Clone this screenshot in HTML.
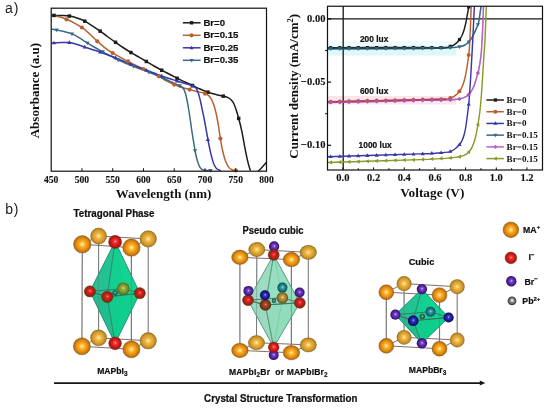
<!DOCTYPE html>
<html><head><meta charset="utf-8"><style>html,body{margin:0;padding:0;background:#fff;width:550px;height:408px;overflow:hidden}svg{display:block;will-change:transform}</style></head>
<body><svg width="550" height="408" viewBox="0 0 550 408">
<defs><radialGradient id="gOr" cx="0.5" cy="0.5" r="0.5" fx="0.5" fy="0.5"><stop offset="0" stop-color="#fff4b0"/><stop offset="0.14" stop-color="#ffd86a"/><stop offset="0.34" stop-color="#f8ae2c"/><stop offset="0.6" stop-color="#ec9212"/><stop offset="0.8" stop-color="#d27e0c"/><stop offset="0.92" stop-color="#a87010"/><stop offset="1" stop-color="#6e5a14"/></radialGradient><radialGradient id="gOrB" cx="0.5" cy="0.5" r="0.5" fx="0.5" fy="0.5"><stop offset="0" stop-color="#fff2b8"/><stop offset="0.15" stop-color="#f8d470"/><stop offset="0.4" stop-color="#ecb040"/><stop offset="0.68" stop-color="#da9c2c"/><stop offset="0.86" stop-color="#b88e26"/><stop offset="0.95" stop-color="#8e7a1e"/><stop offset="1" stop-color="#665c16"/></radialGradient><radialGradient id="gRd" cx="0.5" cy="0.5" r="0.5" fx="0.52" fy="0.45"><stop offset="0" stop-color="#ffb8b8"/><stop offset="0.18" stop-color="#f54444"/><stop offset="0.5" stop-color="#e01c1c"/><stop offset="0.82" stop-color="#b41414"/><stop offset="1" stop-color="#6e3410"/></radialGradient><radialGradient id="gRdD" cx="0.5" cy="0.5" r="0.5" fx="0.52" fy="0.45"><stop offset="0" stop-color="#ffa0a0"/><stop offset="0.18" stop-color="#ee3434"/><stop offset="0.5" stop-color="#cc1a1a"/><stop offset="0.8" stop-color="#9a2412"/><stop offset="1" stop-color="#5a4010"/></radialGradient><radialGradient id="gPu" cx="0.5" cy="0.5" r="0.5" fx="0.52" fy="0.45"><stop offset="0" stop-color="#e8d0ff"/><stop offset="0.18" stop-color="#8a58d8"/><stop offset="0.5" stop-color="#5e2cb0"/><stop offset="0.82" stop-color="#441a88"/><stop offset="1" stop-color="#2a0c58"/></radialGradient><radialGradient id="gBl" cx="0.5" cy="0.5" r="0.5" fx="0.52" fy="0.45"><stop offset="0" stop-color="#d0d0ff"/><stop offset="0.2" stop-color="#4040d0"/><stop offset="0.55" stop-color="#20209c"/><stop offset="0.85" stop-color="#121270"/><stop offset="1" stop-color="#080840"/></radialGradient><radialGradient id="gTe" cx="0.5" cy="0.5" r="0.5" fx="0.52" fy="0.45"><stop offset="0" stop-color="#b0f0f0"/><stop offset="0.22" stop-color="#38a8a8"/><stop offset="0.6" stop-color="#1c7c84"/><stop offset="0.9" stop-color="#0e5a60"/><stop offset="1" stop-color="#084046"/></radialGradient><radialGradient id="gOl" cx="0.5" cy="0.5" r="0.5" fx="0.52" fy="0.45"><stop offset="0" stop-color="#e8f0a0"/><stop offset="0.22" stop-color="#9ab048"/><stop offset="0.6" stop-color="#789a2c"/><stop offset="0.9" stop-color="#587a20"/><stop offset="1" stop-color="#3e5a18"/></radialGradient><radialGradient id="gRdO" cx="0.5" cy="0.5" r="0.5" fx="0.52" fy="0.45"><stop offset="0" stop-color="#f0a080"/><stop offset="0.2" stop-color="#b84a30"/><stop offset="0.55" stop-color="#8a3a1c"/><stop offset="0.85" stop-color="#6a3414"/><stop offset="1" stop-color="#40300c"/></radialGradient><radialGradient id="gTan" cx="0.5" cy="0.5" r="0.5" fx="0.52" fy="0.45"><stop offset="0" stop-color="#f8e0a0"/><stop offset="0.22" stop-color="#c8a050"/><stop offset="0.6" stop-color="#a08030"/><stop offset="0.9" stop-color="#706020"/><stop offset="1" stop-color="#504010"/></radialGradient><radialGradient id="gPb" cx="0.5" cy="0.5" r="0.5" fx="0.52" fy="0.45"><stop offset="0" stop-color="#ffffff"/><stop offset="0.2" stop-color="#d8d8d8"/><stop offset="0.45" stop-color="#8a8a8a"/><stop offset="0.75" stop-color="#555555"/><stop offset="1" stop-color="#383838"/></radialGradient><radialGradient id="gPbT" cx="0.5" cy="0.5" r="0.5" fx="0.52" fy="0.45"><stop offset="0" stop-color="#b0e0d0"/><stop offset="0.3" stop-color="#3a8a78"/><stop offset="0.7" stop-color="#1e6a58"/><stop offset="1" stop-color="#104a3c"/></radialGradient></defs>
<style>
text{font-family:"Liberation Sans",sans-serif;fill:#111}
.tk{font-family:"Liberation Serif",serif;font-weight:bold;font-size:9.6px;stroke:#111;stroke-width:0.12px}
.tk2{font-family:"Liberation Serif",serif;font-weight:bold;font-size:10.5px;stroke:#111;stroke-width:0.12px}
.al{font-family:"Liberation Serif",serif;font-weight:bold;font-size:13px}
.lg{font-weight:bold;font-size:9.6px;stroke:#111;stroke-width:0.18px}
.lg2{font-family:"Liberation Serif",serif;font-weight:bold;font-size:9.1px}
.lux{font-weight:bold;font-size:8.4px;stroke:#111;stroke-width:0.2px}
.ab{font-size:14px;fill:#1a1a1a}
.cb{font-weight:bold;font-size:9.8px;stroke:#111;stroke-width:0.22px}
.cl{font-weight:bold;font-size:8.6px;stroke:#111;stroke-width:0.2px}
.cl2{font-weight:bold;font-size:8.8px;stroke:#111;stroke-width:0.2px}
</style>
<rect width="550" height="408" fill="#fff"/>
<clipPath id="lclip"><rect x="51.2" y="8.2" width="215.3" height="163.0"/></clipPath>
<g clip-path="url(#lclip)" fill="none" stroke-width="1.5" stroke-linejoin="round">
<path d="M51.30,15.30 C51.75,15.32 52.22,15.37 54.00,15.40 C55.78,15.43 59.37,15.38 62.00,15.50 C64.63,15.62 67.30,15.68 69.80,16.10 C72.30,16.52 74.50,17.15 77.00,18.00 C79.50,18.85 82.30,19.93 84.80,21.20 C87.30,22.47 89.38,23.90 92.00,25.60 C94.62,27.30 97.83,29.50 100.50,31.40 C103.17,33.30 105.47,35.17 108.00,37.00 C110.53,38.83 113.20,40.65 115.70,42.40 C118.20,44.15 120.43,45.80 123.00,47.50 C125.57,49.20 128.43,50.98 131.10,52.60 C133.77,54.22 136.42,55.70 139.00,57.20 C141.58,58.70 144.10,60.13 146.60,61.60 C149.10,63.07 151.43,64.53 154.00,66.00 C156.57,67.47 159.33,68.98 162.00,70.40 C164.67,71.82 167.45,73.17 170.00,74.50 C172.55,75.83 174.80,77.15 177.30,78.40 C179.80,79.65 182.47,80.82 185.00,82.00 C187.53,83.18 190.00,84.33 192.50,85.50 C195.00,86.67 197.38,87.87 200.00,89.00 C202.62,90.13 205.53,91.38 208.20,92.30 C210.87,93.22 213.45,93.85 216.00,94.50 C218.55,95.15 221.50,95.68 223.50,96.20 C225.50,96.72 226.67,96.93 228.00,97.60 C229.33,98.27 230.50,99.13 231.50,100.20 C232.50,101.27 233.22,102.37 234.00,104.00 C234.78,105.63 235.40,107.53 236.20,110.00 C237.00,112.47 237.85,115.18 238.80,118.80 C239.75,122.42 240.87,126.78 241.90,131.70 C242.93,136.62 243.97,143.10 245.00,148.30 C246.03,153.50 247.20,159.18 248.10,162.90 C249.00,166.62 250.02,169.32 250.40,170.60" stroke="#1c1c1c"/>
<path d="M51.30,15.90 C52.42,16.02 55.47,16.03 58.00,16.60 C60.53,17.17 63.83,18.27 66.50,19.30 C69.17,20.33 71.32,21.37 74.00,22.80 C76.68,24.23 79.93,26.00 82.60,27.90 C85.27,29.80 87.53,31.95 90.00,34.20 C92.47,36.45 94.90,39.13 97.40,41.40 C99.90,43.67 102.43,45.85 105.00,47.80 C107.57,49.75 110.30,51.53 112.80,53.10 C115.30,54.67 117.47,55.82 120.00,57.20 C122.53,58.58 125.50,60.10 128.00,61.40 C130.50,62.70 132.42,63.73 135.00,65.00 C137.58,66.27 141.00,67.80 143.50,69.00 C146.00,70.20 147.48,71.00 150.00,72.20 C152.52,73.40 156.10,74.90 158.60,76.20 C161.10,77.50 162.50,78.65 165.00,80.00 C167.50,81.35 170.93,83.10 173.60,84.30 C176.27,85.50 178.33,86.32 181.00,87.20 C183.67,88.08 186.93,88.88 189.60,89.60 C192.27,90.32 194.60,90.90 197.00,91.50 C199.40,92.10 202.08,92.55 204.00,93.20 C205.92,93.85 207.25,94.35 208.50,95.40 C209.75,96.45 210.58,97.82 211.50,99.50 C212.42,101.18 213.17,102.92 214.00,105.50 C214.83,108.08 215.75,111.58 216.50,115.00 C217.25,118.42 217.88,122.25 218.50,126.00 C219.12,129.75 219.53,133.50 220.20,137.50 C220.87,141.50 221.62,146.08 222.50,150.00 C223.38,153.92 224.42,158.07 225.50,161.00 C226.58,163.93 227.75,166.07 229.00,167.60 C230.25,169.13 231.67,169.70 233.00,170.20 C234.33,170.70 236.33,170.53 237.00,170.60" stroke="#b5622e"/>
<path d="M51.30,29.00 C52.18,29.15 54.48,29.47 56.60,29.90 C58.72,30.33 61.43,30.93 64.00,31.60 C66.57,32.27 69.50,32.90 72.00,33.90 C74.50,34.90 76.60,36.18 79.00,37.60 C81.40,39.02 83.90,40.83 86.40,42.40 C88.90,43.97 91.43,45.52 94.00,47.00 C96.57,48.48 99.30,49.93 101.80,51.30 C104.30,52.67 106.62,53.92 109.00,55.20 C111.38,56.48 113.60,57.78 116.10,59.00 C118.60,60.22 121.42,61.40 124.00,62.50 C126.58,63.60 129.10,64.60 131.60,65.60 C134.10,66.60 136.62,67.60 139.00,68.50 C141.38,69.40 143.57,70.12 145.90,71.00 C148.23,71.88 150.65,72.83 153.00,73.80 C155.35,74.77 157.67,75.77 160.00,76.80 C162.33,77.83 164.67,78.92 167.00,80.00 C169.33,81.08 171.92,82.37 174.00,83.30 C176.08,84.23 178.00,84.82 179.50,85.60 C181.00,86.38 182.03,86.77 183.00,88.00 C183.97,89.23 184.63,91.00 185.30,93.00 C185.97,95.00 186.45,97.33 187.00,100.00 C187.55,102.67 188.05,105.67 188.60,109.00 C189.15,112.33 189.73,116.17 190.30,120.00 C190.87,123.83 191.42,128.17 192.00,132.00 C192.58,135.83 193.20,139.42 193.80,143.00 C194.40,146.58 194.97,150.42 195.60,153.50 C196.23,156.58 196.87,159.20 197.60,161.50 C198.33,163.80 199.10,165.88 200.00,167.30 C200.90,168.72 201.00,169.45 203.00,170.00 C205.00,170.55 210.50,170.50 212.00,170.60" stroke="#3a6b86"/>
<path d="M51.30,43.00 C51.75,42.98 52.22,42.98 54.00,42.90 C55.78,42.82 59.37,42.55 62.00,42.50 C64.63,42.45 67.30,42.27 69.80,42.60 C72.30,42.93 74.60,43.78 77.00,44.50 C79.40,45.22 81.70,46.07 84.20,46.90 C86.70,47.73 89.25,48.62 92.00,49.50 C94.75,50.38 98.03,51.28 100.70,52.20 C103.37,53.12 105.50,54.05 108.00,55.00 C110.50,55.95 113.20,56.90 115.70,57.90 C118.20,58.90 120.53,59.97 123.00,61.00 C125.47,62.03 128.00,63.10 130.50,64.10 C133.00,65.10 135.42,66.02 138.00,67.00 C140.58,67.98 143.33,69.00 146.00,70.00 C148.67,71.00 151.33,71.97 154.00,73.00 C156.67,74.03 159.33,75.23 162.00,76.20 C164.67,77.17 167.57,78.03 170.00,78.80 C172.43,79.57 174.10,80.02 176.60,80.80 C179.10,81.58 182.43,82.68 185.00,83.50 C187.57,84.32 190.20,84.95 192.00,85.70 C193.80,86.45 194.75,86.78 195.80,88.00 C196.85,89.22 197.55,90.92 198.30,93.00 C199.05,95.08 199.63,97.67 200.30,100.50 C200.97,103.33 201.62,106.75 202.30,110.00 C202.98,113.25 203.73,116.58 204.40,120.00 C205.07,123.42 205.70,127.17 206.30,130.50 C206.90,133.83 207.42,136.92 208.00,140.00 C208.58,143.08 209.17,146.08 209.80,149.00 C210.43,151.92 211.10,154.92 211.80,157.50 C212.50,160.08 213.13,162.58 214.00,164.50 C214.87,166.42 215.83,167.98 217.00,169.00 C218.17,170.02 220.33,170.33 221.00,170.60" stroke="#3838a8"/>
<path d="M257.5,172 L261,168.5 L266.5,162.2" stroke="#1c1c1c"/>
</g>
<rect x="52.25" y="13.65" width="3.50" height="3.50" fill="#1c1c1c"/>
<rect x="67.64" y="14.32" width="3.50" height="3.50" fill="#1c1c1c"/>
<rect x="83.03" y="19.44" width="3.50" height="3.50" fill="#1c1c1c"/>
<rect x="98.42" y="29.42" width="3.50" height="3.50" fill="#1c1c1c"/>
<rect x="113.81" y="40.55" width="3.50" height="3.50" fill="#1c1c1c"/>
<rect x="129.20" y="50.76" width="3.50" height="3.50" fill="#1c1c1c"/>
<rect x="144.59" y="59.70" width="3.50" height="3.50" fill="#1c1c1c"/>
<rect x="159.98" y="68.50" width="3.50" height="3.50" fill="#1c1c1c"/>
<rect x="175.37" y="76.55" width="3.50" height="3.50" fill="#1c1c1c"/>
<rect x="190.76" y="83.75" width="3.50" height="3.50" fill="#1c1c1c"/>
<rect x="206.15" y="90.43" width="3.50" height="3.50" fill="#1c1c1c"/>
<rect x="221.54" y="94.40" width="3.50" height="3.50" fill="#1c1c1c"/>
<rect x="236.93" y="116.64" width="3.50" height="3.50" fill="#1c1c1c"/>
<circle cx="66.50" cy="19.30" r="2.10" fill="#b5622e"/>
<circle cx="81.89" cy="27.48" r="2.10" fill="#b5622e"/>
<circle cx="97.28" cy="41.28" r="2.10" fill="#b5622e"/>
<circle cx="112.67" cy="53.01" r="2.10" fill="#b5622e"/>
<circle cx="128.06" cy="61.43" r="2.10" fill="#b5622e"/>
<circle cx="143.45" cy="68.98" r="2.10" fill="#b5622e"/>
<circle cx="158.84" cy="76.34" r="2.10" fill="#b5622e"/>
<circle cx="174.23" cy="84.55" r="2.10" fill="#b5622e"/>
<circle cx="189.62" cy="89.61" r="2.10" fill="#b5622e"/>
<circle cx="205.01" cy="93.69" r="2.10" fill="#b5622e"/>
<circle cx="220.40" cy="138.59" r="2.10" fill="#b5622e"/>
<circle cx="235.79" cy="170.48" r="2.10" fill="#b5622e"/>
<polygon points="56.60,32.14 54.45,28.44 58.75,28.44" fill="#3a6b86"/>
<polygon points="71.99,36.14 69.85,32.43 74.14,32.43" fill="#3a6b86"/>
<polygon points="87.38,45.24 85.24,41.53 89.53,41.53" fill="#3a6b86"/>
<polygon points="102.77,54.07 100.63,50.36 104.92,50.36" fill="#3a6b86"/>
<polygon points="118.16,62.16 116.02,58.45 120.31,58.45" fill="#3a6b86"/>
<polygon points="133.55,68.61 131.41,64.90 135.70,64.90" fill="#3a6b86"/>
<polygon points="148.94,74.44 146.79,70.74 151.09,70.74" fill="#3a6b86"/>
<polygon points="164.33,81.02 162.18,77.32 166.47,77.32" fill="#3a6b86"/>
<polygon points="179.72,87.99 177.57,84.29 181.86,84.29" fill="#3a6b86"/>
<polygon points="195.11,152.88 192.96,149.18 197.25,149.18" fill="#3a6b86"/>
<polygon points="210.50,172.74 208.35,169.04 212.64,169.04" fill="#3a6b86"/>
<polygon points="54.00,40.66 51.85,44.36 56.15,44.36" fill="#3838a8"/>
<polygon points="69.39,40.35 67.25,44.06 71.53,44.06" fill="#3838a8"/>
<polygon points="84.78,44.85 82.64,48.56 86.92,48.56" fill="#3838a8"/>
<polygon points="100.17,49.79 98.03,53.50 102.31,53.50" fill="#3838a8"/>
<polygon points="115.56,55.60 113.42,59.31 117.70,59.31" fill="#3838a8"/>
<polygon points="130.95,62.03 128.80,65.74 133.09,65.74" fill="#3838a8"/>
<polygon points="146.34,67.88 144.19,71.59 148.48,71.59" fill="#3838a8"/>
<polygon points="161.73,73.85 159.58,77.55 163.87,77.55" fill="#3838a8"/>
<polygon points="177.12,78.72 174.97,82.43 179.26,82.43" fill="#3838a8"/>
<polygon points="192.51,83.77 190.36,87.47 194.65,87.47" fill="#3838a8"/>
<polygon points="207.90,137.20 205.75,140.90 210.04,140.90" fill="#3838a8"/>
<rect x="51.2" y="8.2" width="215.3" height="163.0" fill="none" stroke="#111" stroke-width="1.2"/>
<text x="51.20" y="183.2" class="tk" text-anchor="middle">450</text>
<line x1="81.96" y1="171.2" x2="81.96" y2="168.2" stroke="#111" stroke-width="1"/>
<text x="81.96" y="183.2" class="tk" text-anchor="middle">500</text>
<line x1="112.71" y1="171.2" x2="112.71" y2="168.2" stroke="#111" stroke-width="1"/>
<text x="112.71" y="183.2" class="tk" text-anchor="middle">550</text>
<line x1="143.47" y1="171.2" x2="143.47" y2="168.2" stroke="#111" stroke-width="1"/>
<text x="143.47" y="183.2" class="tk" text-anchor="middle">600</text>
<line x1="174.23" y1="171.2" x2="174.23" y2="168.2" stroke="#111" stroke-width="1"/>
<text x="174.23" y="183.2" class="tk" text-anchor="middle">650</text>
<line x1="204.99" y1="171.2" x2="204.99" y2="168.2" stroke="#111" stroke-width="1"/>
<text x="204.99" y="183.2" class="tk" text-anchor="middle">700</text>
<line x1="235.74" y1="171.2" x2="235.74" y2="168.2" stroke="#111" stroke-width="1"/>
<text x="235.74" y="183.2" class="tk" text-anchor="middle">750</text>
<text x="266.50" y="183.2" class="tk" text-anchor="middle">800</text>
<text x="163.5" y="198.2" class="al" text-anchor="middle">Wavelength (nm)</text>
<text transform="translate(39,90.6) rotate(-90)" class="al" text-anchor="middle">Absorbance (a.u)</text>
<line x1="182.8" y1="22.80" x2="200.6" y2="22.80" stroke="#1c1c1c" stroke-width="1.5"/>
<rect x="189.89" y="21.09" width="3.41" height="3.41" fill="#1c1c1c"/>
<text x="203.4" y="25.50" class="lg">Br=0</text>
<line x1="182.8" y1="35.30" x2="200.6" y2="35.30" stroke="#b5622e" stroke-width="1.5"/>
<circle cx="191.60" cy="35.30" r="2.09" fill="#b5622e"/>
<text x="203.4" y="38.00" class="lg">Br=0.15</text>
<line x1="182.8" y1="47.80" x2="200.6" y2="47.80" stroke="#3838a8" stroke-width="1.5"/>
<polygon points="191.60,45.65 189.54,49.20 193.66,49.20" fill="#3838a8"/>
<text x="203.4" y="50.50" class="lg">Br=0.25</text>
<line x1="182.8" y1="60.30" x2="200.6" y2="60.30" stroke="#3a6b86" stroke-width="1.5"/>
<polygon points="191.60,62.45 189.54,58.90 193.66,58.90" fill="#3a6b86"/>
<text x="203.4" y="63.00" class="lg">Br=0.35</text>
<clipPath id="rclip"><rect x="327.5" y="6.25" width="215.0" height="163.75"/></clipPath>
<rect x="328" y="41" width="128" height="7" fill="#effcfc"/>
<rect x="328" y="48" width="128" height="7.5" fill="#dcf8f8"/>
<rect x="328" y="96" width="128" height="8.5" fill="#fbe3f0"/>
<line x1="327.5" y1="18.9" x2="542.5" y2="18.9" stroke="#161616" stroke-width="1.3"/>
<line x1="343.2" y1="6.25" x2="343.2" y2="170.0" stroke="#161616" stroke-width="1.3"/>
<g clip-path="url(#rclip)" fill="none" stroke-width="1.45" stroke-linejoin="round">
<path d="M327.50,48.80 C342.92,48.75 399.58,48.67 420.00,48.50 C440.42,48.33 443.33,48.10 450.00,47.80 C456.67,47.50 457.50,47.17 460.00,46.70 C462.50,46.23 463.67,45.68 465.00,45.00 C466.33,44.32 467.08,43.47 468.00,42.60 C468.92,41.73 469.73,40.82 470.50,39.80 C471.27,38.78 471.93,37.67 472.60,36.50 C473.27,35.33 473.90,34.08 474.50,32.80 C475.10,31.52 475.70,29.97 476.20,28.80 C476.70,27.63 477.12,26.80 477.50,25.80 C477.88,24.80 478.17,24.27 478.50,22.80 C478.83,21.33 479.18,18.97 479.50,17.00 C479.82,15.03 480.10,13.17 480.40,11.00 C480.70,8.83 481.10,5.67 481.30,4.00 C481.50,2.33 481.55,1.50 481.60,1.00" stroke="#3a6b86" stroke-opacity="1.0"/>
<path d="M327.50,47.70 C342.92,47.67 400.42,47.52 420.00,47.50 C439.58,47.48 439.67,47.85 445.00,47.60 C450.33,47.35 450.08,46.77 452.00,46.00 C453.92,45.23 455.27,44.05 456.50,43.00 C457.73,41.95 458.48,40.95 459.40,39.70 C460.32,38.45 461.20,37.20 462.00,35.50 C462.80,33.80 463.55,31.67 464.20,29.50 C464.85,27.33 465.38,24.92 465.90,22.50 C466.42,20.08 466.85,17.50 467.30,15.00 C467.75,12.50 468.23,9.67 468.60,7.50 C468.97,5.33 469.35,2.92 469.50,2.00" stroke="#1c1c1c" stroke-opacity="1.0"/>
<path d="M327.50,48.80 C342.92,48.75 399.58,48.67 420.00,48.50 C440.42,48.33 443.33,48.10 450.00,47.80 C456.67,47.50 457.50,47.17 460.00,46.70 C462.50,46.23 463.67,45.68 465.00,45.00 C466.33,44.32 467.08,43.47 468.00,42.60 C468.92,41.73 469.73,40.82 470.50,39.80 C471.27,38.78 471.93,37.67 472.60,36.50 C473.27,35.33 473.90,34.08 474.50,32.80 C475.10,31.52 475.70,29.97 476.20,28.80 C476.70,27.63 477.12,26.80 477.50,25.80 C477.88,24.80 478.17,24.27 478.50,22.80 C478.83,21.33 479.18,18.97 479.50,17.00 C479.82,15.03 480.10,13.17 480.40,11.00 C480.70,8.83 481.10,5.67 481.30,4.00 C481.50,2.33 481.55,1.50 481.60,1.00" stroke="#3a6b86" stroke-opacity="0.45"/>
<path d="M327.50,102.50 C342.92,102.15 399.58,100.85 420.00,100.40 C440.42,99.95 443.33,100.05 450.00,99.80 C456.67,99.55 457.50,99.33 460.00,98.90 C462.50,98.47 463.48,97.97 465.00,97.20 C466.52,96.43 467.97,95.42 469.10,94.30 C470.23,93.18 470.97,91.97 471.80,90.50 C472.63,89.03 473.42,87.25 474.10,85.50 C474.78,83.75 475.37,81.75 475.90,80.00 C476.43,78.25 476.88,76.42 477.30,75.00 C477.72,73.58 478.02,73.17 478.40,71.50 C478.78,69.83 479.23,67.15 479.60,65.00 C479.97,62.85 480.28,61.10 480.60,58.60 C480.92,56.10 481.17,54.77 481.50,50.00 C481.83,45.23 482.27,37.30 482.60,30.00 C482.93,22.70 483.32,11.03 483.50,6.20 C483.68,1.37 483.67,1.87 483.70,1.00" stroke="#b862c4" stroke-opacity="1.0"/>
<path d="M327.50,101.70 C342.92,101.35 400.42,100.00 420.00,99.60 C439.58,99.20 439.67,99.65 445.00,99.30 C450.33,98.95 450.08,98.30 452.00,97.50 C453.92,96.70 455.25,95.55 456.50,94.50 C457.75,93.45 458.62,92.37 459.50,91.20 C460.38,90.03 461.10,88.95 461.80,87.50 C462.50,86.05 463.12,84.33 463.70,82.50 C464.28,80.67 464.80,78.75 465.30,76.50 C465.80,74.25 466.28,71.50 466.70,69.00 C467.12,66.50 467.47,63.83 467.80,61.50 C468.13,59.17 468.43,57.25 468.70,55.00 C468.97,52.75 469.13,52.17 469.40,48.00 C469.67,43.83 470.00,36.97 470.30,30.00 C470.60,23.03 471.02,11.03 471.20,6.20 C471.38,1.37 471.37,1.87 471.40,1.00" stroke="#b5622e" stroke-opacity="1.0"/>
<path d="M327.50,102.50 C342.92,102.15 399.58,100.85 420.00,100.40 C440.42,99.95 443.33,100.05 450.00,99.80 C456.67,99.55 457.50,99.33 460.00,98.90 C462.50,98.47 463.48,97.97 465.00,97.20 C466.52,96.43 467.97,95.42 469.10,94.30 C470.23,93.18 470.97,91.97 471.80,90.50 C472.63,89.03 473.42,87.25 474.10,85.50 C474.78,83.75 475.37,81.75 475.90,80.00 C476.43,78.25 476.88,76.42 477.30,75.00 C477.72,73.58 478.02,73.17 478.40,71.50 C478.78,69.83 479.23,67.15 479.60,65.00 C479.97,62.85 480.28,61.10 480.60,58.60 C480.92,56.10 481.17,54.77 481.50,50.00 C481.83,45.23 482.27,37.30 482.60,30.00 C482.93,22.70 483.32,11.03 483.50,6.20 C483.68,1.37 483.67,1.87 483.70,1.00" stroke="#b862c4" stroke-opacity="0.45"/>
<path d="M327.5,48.3 L420,48.0 L446,47.6" stroke="#24445a" stroke-width="1.7"/>
<path d="M327.5,102.0 L420,99.9 L446,99.2" stroke="#b63e5c" stroke-width="1.7"/>
<path d="M327.50,156.70 C342.92,156.23 400.42,154.62 420.00,153.90 C439.58,153.18 439.83,152.83 445.00,152.40 C450.17,151.97 449.25,151.95 451.00,151.30 C452.75,150.65 454.05,149.67 455.50,148.50 C456.95,147.33 458.58,145.68 459.70,144.30 C460.82,142.92 461.45,141.83 462.20,140.20 C462.95,138.57 463.62,136.62 464.20,134.50 C464.78,132.38 465.25,130.08 465.70,127.50 C466.15,124.92 466.53,121.75 466.90,119.00 C467.27,116.25 467.55,113.92 467.90,111.00 C468.25,108.08 468.57,106.67 469.00,101.50 C469.43,96.33 470.00,87.92 470.50,80.00 C471.00,72.08 471.50,63.17 472.00,54.00 C472.50,44.83 473.10,32.97 473.50,25.00 C473.90,17.03 474.22,10.20 474.40,6.20 C474.58,2.20 474.57,1.87 474.60,1.00" stroke="#3838a8" stroke-opacity="1.0"/>
<path d="M327.50,162.50 C342.92,162.02 399.42,160.37 420.00,159.60 C440.58,158.83 444.37,158.40 451.00,157.90 C457.63,157.40 457.55,157.05 459.80,156.60 C462.05,156.15 463.07,155.90 464.50,155.20 C465.93,154.50 467.28,153.47 468.40,152.40 C469.52,151.33 470.33,150.28 471.20,148.80 C472.07,147.32 472.87,145.47 473.60,143.50 C474.33,141.53 475.00,139.45 475.60,137.00 C476.20,134.55 476.72,131.47 477.20,128.80 C477.68,126.13 478.08,123.63 478.50,121.00 C478.92,118.37 479.28,116.50 479.70,113.00 C480.12,109.50 480.55,105.50 481.00,100.00 C481.45,94.50 481.95,86.90 482.40,80.00 C482.85,73.10 483.27,65.27 483.70,58.60 C484.13,51.93 484.57,48.73 485.00,40.00 C485.43,31.27 486.05,12.70 486.30,6.20 C486.55,-0.30 486.47,1.87 486.50,1.00" stroke="#8a9a2a" stroke-opacity="1.0"/>
</g>
<g clip-path="url(#rclip)">
<rect x="329.03" y="46.09" width="3.20" height="3.20" fill="#1c1c1c"/>
<rect x="338.23" y="46.07" width="3.20" height="3.20" fill="#1c1c1c"/>
<rect x="347.44" y="46.05" width="3.20" height="3.20" fill="#1c1c1c"/>
<rect x="356.64" y="46.03" width="3.20" height="3.20" fill="#1c1c1c"/>
<rect x="365.84" y="46.01" width="3.20" height="3.20" fill="#1c1c1c"/>
<rect x="375.05" y="45.99" width="3.20" height="3.20" fill="#1c1c1c"/>
<rect x="384.25" y="45.97" width="3.20" height="3.20" fill="#1c1c1c"/>
<rect x="393.46" y="45.95" width="3.20" height="3.20" fill="#1c1c1c"/>
<rect x="402.66" y="45.93" width="3.20" height="3.20" fill="#1c1c1c"/>
<rect x="411.86" y="45.91" width="3.20" height="3.20" fill="#1c1c1c"/>
<rect x="421.07" y="45.91" width="3.20" height="3.20" fill="#1c1c1c"/>
<rect x="430.27" y="45.95" width="3.20" height="3.20" fill="#1c1c1c"/>
<rect x="439.48" y="45.98" width="3.20" height="3.20" fill="#1c1c1c"/>
<rect x="448.68" y="44.79" width="3.20" height="3.20" fill="#1c1c1c"/>
<rect x="457.88" y="37.96" width="3.20" height="3.20" fill="#1c1c1c"/>
<rect x="467.09" y="5.36" width="3.20" height="3.20" fill="#1c1c1c"/>
<circle cx="330.63" cy="101.63" r="2.00" fill="#b5622e"/>
<circle cx="339.83" cy="101.42" r="2.00" fill="#b5622e"/>
<circle cx="349.04" cy="101.21" r="2.00" fill="#b5622e"/>
<circle cx="358.24" cy="101.00" r="2.00" fill="#b5622e"/>
<circle cx="367.44" cy="100.79" r="2.00" fill="#b5622e"/>
<circle cx="376.65" cy="100.58" r="2.00" fill="#b5622e"/>
<circle cx="385.85" cy="100.38" r="2.00" fill="#b5622e"/>
<circle cx="395.06" cy="100.17" r="2.00" fill="#b5622e"/>
<circle cx="404.26" cy="99.96" r="2.00" fill="#b5622e"/>
<circle cx="413.46" cy="99.75" r="2.00" fill="#b5622e"/>
<circle cx="422.67" cy="99.57" r="2.00" fill="#b5622e"/>
<circle cx="431.87" cy="99.46" r="2.00" fill="#b5622e"/>
<circle cx="441.08" cy="99.35" r="2.00" fill="#b5622e"/>
<circle cx="450.28" cy="97.94" r="2.00" fill="#b5622e"/>
<circle cx="459.48" cy="91.22" r="2.00" fill="#b5622e"/>
<circle cx="468.69" cy="55.09" r="2.00" fill="#b5622e"/>
<polygon points="330.63,154.42 328.54,158.03 332.72,158.03" fill="#3838a8"/>
<polygon points="339.83,154.14 337.74,157.75 341.92,157.75" fill="#3838a8"/>
<polygon points="349.04,153.86 346.95,157.47 351.13,157.47" fill="#3838a8"/>
<polygon points="358.24,153.58 356.15,157.19 360.33,157.19" fill="#3838a8"/>
<polygon points="367.44,153.31 365.35,156.92 369.53,156.92" fill="#3838a8"/>
<polygon points="376.65,153.03 374.56,156.64 378.74,156.64" fill="#3838a8"/>
<polygon points="385.85,152.75 383.76,156.36 387.94,156.36" fill="#3838a8"/>
<polygon points="395.06,152.47 392.97,156.08 397.15,156.08" fill="#3838a8"/>
<polygon points="404.26,152.19 402.17,155.80 406.35,155.80" fill="#3838a8"/>
<polygon points="413.46,151.91 411.37,155.52 415.55,155.52" fill="#3838a8"/>
<polygon points="422.67,151.55 420.58,155.16 424.76,155.16" fill="#3838a8"/>
<polygon points="431.87,151.00 429.78,154.61 433.96,154.61" fill="#3838a8"/>
<polygon points="441.08,150.45 438.99,154.06 443.17,154.06" fill="#3838a8"/>
<polygon points="450.28,149.25 448.19,152.86 452.37,152.86" fill="#3838a8"/>
<polygon points="459.48,142.33 457.39,145.94 461.57,145.94" fill="#3838a8"/>
<polygon points="468.69,102.01 466.60,105.62 470.78,105.62" fill="#3838a8"/>
<polygon points="330.63,50.97 328.54,47.36 332.72,47.36" fill="#3a6b86"/>
<polygon points="339.83,50.95 337.74,47.34 341.92,47.34" fill="#3a6b86"/>
<polygon points="349.04,50.92 346.95,47.31 351.13,47.31" fill="#3a6b86"/>
<polygon points="358.24,50.89 356.15,47.28 360.33,47.28" fill="#3a6b86"/>
<polygon points="367.44,50.86 365.35,47.25 369.53,47.25" fill="#3a6b86"/>
<polygon points="376.65,50.83 374.56,47.22 378.74,47.22" fill="#3a6b86"/>
<polygon points="385.85,50.80 383.76,47.19 387.94,47.19" fill="#3a6b86"/>
<polygon points="395.06,50.77 392.97,47.16 397.15,47.16" fill="#3a6b86"/>
<polygon points="404.26,50.74 402.17,47.13 406.35,47.13" fill="#3a6b86"/>
<polygon points="413.46,50.71 411.37,47.10 415.55,47.10" fill="#3a6b86"/>
<polygon points="422.67,50.62 420.58,47.01 424.76,47.01" fill="#3a6b86"/>
<polygon points="431.87,50.41 429.78,46.80 433.96,46.80" fill="#3a6b86"/>
<polygon points="441.08,50.19 438.99,46.58 443.17,46.58" fill="#3a6b86"/>
<polygon points="450.28,49.95 448.19,46.34 452.37,46.34" fill="#3a6b86"/>
<polygon points="459.48,48.94 457.39,45.33 461.57,45.33" fill="#3a6b86"/>
<polygon points="468.69,44.01 466.60,40.40 470.78,40.40" fill="#3a6b86"/>
<polygon points="477.89,26.81 475.80,23.20 479.98,23.20" fill="#3a6b86"/>
<polygon points="330.63,100.27 328.47,102.43 330.63,104.59 332.79,102.43" fill="#a658b4"/>
<polygon points="339.83,100.06 337.67,102.22 339.83,104.38 341.99,102.22" fill="#a658b4"/>
<polygon points="349.04,99.85 346.88,102.01 349.04,104.17 351.20,102.01" fill="#a658b4"/>
<polygon points="358.24,99.64 356.08,101.80 358.24,103.96 360.40,101.80" fill="#a658b4"/>
<polygon points="367.44,99.43 365.28,101.59 367.44,103.75 369.60,101.59" fill="#a658b4"/>
<polygon points="376.65,99.22 374.49,101.38 376.65,103.54 378.81,101.38" fill="#a658b4"/>
<polygon points="385.85,99.02 383.69,101.18 385.85,103.34 388.01,101.18" fill="#a658b4"/>
<polygon points="395.06,98.81 392.90,100.97 395.06,103.13 397.22,100.97" fill="#a658b4"/>
<polygon points="404.26,98.60 402.10,100.76 404.26,102.92 406.42,100.76" fill="#a658b4"/>
<polygon points="413.46,98.39 411.30,100.55 413.46,102.71 415.62,100.55" fill="#a658b4"/>
<polygon points="422.67,98.19 420.51,100.35 422.67,102.51 424.83,100.35" fill="#a658b4"/>
<polygon points="431.87,98.00 429.71,100.16 431.87,102.32 434.03,100.16" fill="#a658b4"/>
<polygon points="441.08,97.82 438.92,99.98 441.08,102.14 443.24,99.98" fill="#a658b4"/>
<polygon points="450.28,97.61 448.12,99.77 450.28,101.93 452.44,99.77" fill="#a658b4"/>
<polygon points="459.48,96.79 457.32,98.95 459.48,101.11 461.64,98.95" fill="#a658b4"/>
<polygon points="468.69,92.43 466.53,94.59 468.69,96.75 470.85,94.59" fill="#a658b4"/>
<polygon points="477.89,70.96 475.73,73.12 477.89,75.28 480.05,73.12" fill="#a658b4"/>
<polygon points="328.44,162.40 332.05,160.31 332.05,164.49" fill="#8a9a2a"/>
<polygon points="337.65,162.11 341.26,160.02 341.26,164.20" fill="#8a9a2a"/>
<polygon points="346.85,161.82 350.46,159.73 350.46,163.91" fill="#8a9a2a"/>
<polygon points="356.05,161.54 359.66,159.45 359.66,163.63" fill="#8a9a2a"/>
<polygon points="365.26,161.25 368.87,159.16 368.87,163.34" fill="#8a9a2a"/>
<polygon points="374.46,160.96 378.07,158.87 378.07,163.05" fill="#8a9a2a"/>
<polygon points="383.67,160.67 387.28,158.58 387.28,162.76" fill="#8a9a2a"/>
<polygon points="392.87,160.38 396.48,158.29 396.48,162.47" fill="#8a9a2a"/>
<polygon points="402.07,160.09 405.69,158.00 405.69,162.18" fill="#8a9a2a"/>
<polygon points="411.28,159.80 414.89,157.71 414.89,161.89" fill="#8a9a2a"/>
<polygon points="420.48,159.45 424.09,157.36 424.09,161.54" fill="#8a9a2a"/>
<polygon points="429.69,158.95 433.30,156.86 433.30,161.04" fill="#8a9a2a"/>
<polygon points="438.89,158.44 442.50,156.35 442.50,160.53" fill="#8a9a2a"/>
<polygon points="448.09,157.94 451.70,155.85 451.70,160.03" fill="#8a9a2a"/>
<polygon points="457.30,156.65 460.91,154.56 460.91,158.74" fill="#8a9a2a"/>
<polygon points="466.50,152.03 470.11,149.94 470.11,154.12" fill="#8a9a2a"/>
<polygon points="475.71,124.65 479.32,122.56 479.32,126.74" fill="#8a9a2a"/>
</g>
<rect x="327.5" y="6.25" width="215.0" height="163.75" fill="none" stroke="#111" stroke-width="1.2"/>
<line x1="342.90" y1="170.0" x2="342.90" y2="167.4" stroke="#111" stroke-width="1"/>
<text x="342.90" y="181.3" class="tk2" text-anchor="middle">0.0</text>
<line x1="358.24" y1="170.0" x2="358.24" y2="168.2" stroke="#111" stroke-width="1"/>
<line x1="373.58" y1="170.0" x2="373.58" y2="167.4" stroke="#111" stroke-width="1"/>
<text x="373.58" y="181.3" class="tk2" text-anchor="middle">0.2</text>
<line x1="388.92" y1="170.0" x2="388.92" y2="168.2" stroke="#111" stroke-width="1"/>
<line x1="404.26" y1="170.0" x2="404.26" y2="167.4" stroke="#111" stroke-width="1"/>
<text x="404.26" y="181.3" class="tk2" text-anchor="middle">0.4</text>
<line x1="419.60" y1="170.0" x2="419.60" y2="168.2" stroke="#111" stroke-width="1"/>
<line x1="434.94" y1="170.0" x2="434.94" y2="167.4" stroke="#111" stroke-width="1"/>
<text x="434.94" y="181.3" class="tk2" text-anchor="middle">0.6</text>
<line x1="450.28" y1="170.0" x2="450.28" y2="168.2" stroke="#111" stroke-width="1"/>
<line x1="465.62" y1="170.0" x2="465.62" y2="167.4" stroke="#111" stroke-width="1"/>
<text x="465.62" y="181.3" class="tk2" text-anchor="middle">0.8</text>
<line x1="480.96" y1="170.0" x2="480.96" y2="168.2" stroke="#111" stroke-width="1"/>
<line x1="496.30" y1="170.0" x2="496.30" y2="167.4" stroke="#111" stroke-width="1"/>
<text x="496.30" y="181.3" class="tk2" text-anchor="middle">1.0</text>
<line x1="511.64" y1="170.0" x2="511.64" y2="168.2" stroke="#111" stroke-width="1"/>
<line x1="526.98" y1="170.0" x2="526.98" y2="167.4" stroke="#111" stroke-width="1"/>
<text x="526.98" y="181.3" class="tk2" text-anchor="middle">1.2</text>
<line x1="327.5" y1="18.90" x2="331.1" y2="18.90" stroke="#111" stroke-width="1.25"/>
<text x="325.4" y="21.90" class="tk2" text-anchor="end">0.00</text>
<line x1="327.5" y1="82.10" x2="331.1" y2="82.10" stroke="#111" stroke-width="1.25"/>
<text x="325.4" y="85.10" class="tk2" text-anchor="end">−0.05</text>
<line x1="327.5" y1="145.30" x2="331.1" y2="145.30" stroke="#111" stroke-width="1.25"/>
<text x="325.4" y="148.30" class="tk2" text-anchor="end">−0.10</text>
<line x1="325.1" y1="50.50" x2="327.5" y2="50.50" stroke="#111" stroke-width="1.1"/>
<line x1="325.1" y1="113.70" x2="327.5" y2="113.70" stroke="#111" stroke-width="1.1"/>
<text x="432.3" y="196.9" class="al" text-anchor="middle" style="font-size:13.3px">Voltage (V)</text>
<text transform="translate(297.5,86.3) rotate(-90)" class="al" text-anchor="middle">Current density (mA/cm<tspan font-size="8.5" dy="-4.5">2</tspan><tspan dy="4.5">)</tspan></text>
<text x="359.9" y="42.0" class="lux">200 lux</text>
<text x="359.9" y="93.6" class="lux">600 lux</text>
<text x="358.6" y="148.1" class="lux">1000 lux</text>
<line x1="486.4" y1="100.00" x2="503.9" y2="100.00" stroke="#1c1c1c" stroke-width="1.5"/>
<rect x="493.75" y="98.35" width="3.30" height="3.30" fill="#1c1c1c"/>
<text x="506.6" y="102.90" class="lg2">Br=0</text>
<line x1="486.4" y1="111.72" x2="503.9" y2="111.72" stroke="#b5622e" stroke-width="1.5"/>
<circle cx="495.40" cy="111.72" r="2.04" fill="#b5622e"/>
<text x="506.6" y="114.62" class="lg2">Br=0</text>
<line x1="486.4" y1="123.44" x2="503.9" y2="123.44" stroke="#3838a8" stroke-width="1.5"/>
<polygon points="495.40,121.29 493.34,124.84 497.46,124.84" fill="#3838a8"/>
<text x="506.6" y="126.34" class="lg2">Br=0</text>
<line x1="486.4" y1="135.16" x2="503.9" y2="135.16" stroke="#3a6b86" stroke-width="1.5"/>
<polygon points="495.40,137.31 493.34,133.76 497.46,133.76" fill="#3a6b86"/>
<text x="506.6" y="138.06" class="lg2">Br=0.15</text>
<line x1="486.4" y1="146.88" x2="503.9" y2="146.88" stroke="#b862c4" stroke-width="1.5"/>
<polygon points="495.40,144.77 493.29,146.88 495.40,148.99 497.51,146.88" fill="#b862c4"/>
<text x="506.6" y="149.78" class="lg2">Br=0.15</text>
<line x1="486.4" y1="158.60" x2="503.9" y2="158.60" stroke="#8a9a2a" stroke-width="1.5"/>
<polygon points="493.25,158.60 496.80,156.54 496.80,160.66" fill="#8a9a2a"/>
<text x="506.6" y="161.50" class="lg2">Br=0.15</text>
<text x="5" y="12.9" class="ab" letter-spacing="0.9">a)</text>
<text x="5.2" y="213.9" class="ab" letter-spacing="0.9">b)</text>
<g transform="translate(114,217.4) scale(1,1.08)"><text x="0" y="0" class="cb" text-anchor="middle">Tetragonal Phase</text></g>
<g transform="translate(273,233.6) scale(1,1.08)"><text x="0" y="0" class="cb" text-anchor="middle" style="font-size:9.4px">Pseudo cubic</text></g>
<g transform="translate(421.5,265) scale(1,1.08)"><text x="0" y="0" class="cb" text-anchor="middle" style="font-size:9.2px">Cubic</text></g>
<g transform="translate(112.3,374.3) scale(1,1.04)"><text x="0" y="0" class="cl" text-anchor="middle">MAPbI<tspan font-size="6.4" dy="2">3</tspan></text></g>
<g transform="translate(278.4,374.8) scale(1,1.04)"><text x="0" y="0" class="cl" text-anchor="middle" letter-spacing="0.16">MAPbI<tspan font-size="6.4" dy="2">2</tspan><tspan dy="-2">Br&#160;&#160;or MAPbIBr</tspan><tspan font-size="6.4" dy="2">2</tspan></text></g>
<g transform="translate(427.5,372.5) scale(1,1.04)"><text x="0" y="0" class="cl" text-anchor="middle">MAPbBr<tspan font-size="6.4" dy="2">3</tspan></text></g>
<g transform="translate(280.8,401.5) scale(1,1.08)"><text x="0" y="0" class="cb" text-anchor="middle" style="font-size:9.8px">Crystal Structure Transformation</text></g>
<line x1="54" y1="383.1" x2="481" y2="383.1" stroke="#151515" stroke-width="1.6"/>
<polygon points="485.3,383.1 479.8,380.6 479.8,385.6" fill="#151515"/>
<circle cx="510.90" cy="229.80" r="7.85" fill="url(#gOr)" stroke="#b0561a" stroke-width="0.6" stroke-opacity="0.75"/>
<circle cx="510.90" cy="257.90" r="5.85" fill="url(#gRd)" stroke="#7a1a10" stroke-width="0.6" stroke-opacity="0.75"/>
<circle cx="511.30" cy="281.30" r="5.20" fill="url(#gPu)"/>
<circle cx="512.00" cy="300.80" r="4.40" fill="url(#gPb)"/>
<g transform="translate(523,232.6) scale(1,1.04)"><text x="0" y="0" class="cl2">MA<tspan font-size="6" dy="-3.0">+</tspan></text></g>
<g transform="translate(528.6,260.3) scale(1,1.04)"><text x="0" y="0" class="cl2">I<tspan font-size="6" dy="-3.0">−</tspan></text></g>
<g transform="translate(524.4,284.6) scale(1,1.04)"><text x="0" y="0" class="cl2">Br<tspan font-size="6" dy="-3.0">−</tspan></text></g>
<g transform="translate(522.3,303.8) scale(1,1.04)"><text x="0" y="0" class="cl2">Pb<tspan font-size="6" dy="-2.8">2+</tspan></text></g>
<line x1="82.30" y1="244.30" x2="81.90" y2="346.30" stroke="#7c7c7c" stroke-width="1.25"/>
<line x1="98.60" y1="236.10" x2="98.60" y2="337.80" stroke="#7c7c7c" stroke-width="1.0"/>
<line x1="131.40" y1="247.60" x2="131.40" y2="349.30" stroke="#7c7c7c" stroke-width="1.15"/>
<line x1="148.20" y1="238.90" x2="148.20" y2="340.80" stroke="#7c7c7c" stroke-width="1.1"/>
<line x1="82.30" y1="244.30" x2="98.60" y2="236.10" stroke="#8a6a6a" stroke-width="1.0"/>
<line x1="98.60" y1="236.10" x2="148.20" y2="238.90" stroke="#8a6a6a" stroke-width="1.0"/>
<line x1="148.20" y1="238.90" x2="131.40" y2="247.60" stroke="#8a6a6a" stroke-width="1.0"/>
<line x1="131.40" y1="247.60" x2="82.30" y2="244.30" stroke="#8a6a6a" stroke-width="1.0"/>
<line x1="81.90" y1="346.30" x2="98.60" y2="337.80" stroke="#8a6a6a" stroke-width="1.0"/>
<line x1="98.60" y1="337.80" x2="148.20" y2="340.80" stroke="#8a6a6a" stroke-width="1.0"/>
<line x1="148.20" y1="340.80" x2="131.40" y2="349.30" stroke="#8a6a6a" stroke-width="1.0"/>
<line x1="131.40" y1="349.30" x2="81.90" y2="346.30" stroke="#8a6a6a" stroke-width="1.0"/>
<circle cx="98.60" cy="236.10" r="8.05" fill="url(#gOrB)" stroke="#a86a20" stroke-width="0.6" stroke-opacity="0.75"/>
<circle cx="148.20" cy="238.90" r="8.25" fill="url(#gOrB)" stroke="#a86a20" stroke-width="0.6" stroke-opacity="0.75"/>
<circle cx="98.60" cy="337.80" r="8.05" fill="url(#gOrB)" stroke="#a86a20" stroke-width="0.6" stroke-opacity="0.75"/>
<circle cx="148.20" cy="340.80" r="8.25" fill="url(#gOrB)" stroke="#a86a20" stroke-width="0.6" stroke-opacity="0.75"/>
<polygon points="115.10,241.50 139.80,293.20 123.20,288.70" fill="#1ccc8e" fill-opacity="1" stroke="#2a8a70" stroke-width="0.5" stroke-linejoin="round"/>
<polygon points="115.10,241.50 123.20,288.70 89.90,291.40" fill="#22be8c" fill-opacity="1" stroke="#2a8a70" stroke-width="0.5" stroke-linejoin="round"/>
<polygon points="115.10,343.40 139.80,293.20 123.20,288.70" fill="#1ac88a" fill-opacity="1" stroke="#2a8a70" stroke-width="0.5" stroke-linejoin="round"/>
<polygon points="115.10,343.40 123.20,288.70 89.90,291.40" fill="#24b48a" fill-opacity="1" stroke="#2a8a70" stroke-width="0.5" stroke-linejoin="round"/>
<polygon points="115.10,241.50 89.90,291.40 107.30,296.90" fill="#22c493" fill-opacity="0.85" stroke="#2e7e6a" stroke-width="0.65" stroke-linejoin="round"/>
<polygon points="115.10,241.50 107.30,296.90 139.80,293.20" fill="#10d490" fill-opacity="0.85" stroke="#2e7e6a" stroke-width="0.65" stroke-linejoin="round"/>
<polygon points="115.10,343.40 89.90,291.40 107.30,296.90" fill="#20be8e" fill-opacity="0.85" stroke="#2e7e6a" stroke-width="0.65" stroke-linejoin="round"/>
<polygon points="115.10,343.40 107.30,296.90 139.80,293.20" fill="#0ed08c" fill-opacity="0.85" stroke="#2e7e6a" stroke-width="0.65" stroke-linejoin="round"/>
<line x1="89.90" y1="291.40" x2="107.30" y2="296.90" stroke="#3a6a5e" stroke-width="1.0" stroke-opacity="0.8"/>
<line x1="107.30" y1="296.90" x2="139.80" y2="293.20" stroke="#3a6a5e" stroke-width="1.0" stroke-opacity="0.8"/>
<line x1="89.90" y1="291.40" x2="123.20" y2="288.70" stroke="#3a6a5e" stroke-width="1.0" stroke-opacity="0.8"/>
<line x1="123.20" y1="288.70" x2="139.80" y2="293.20" stroke="#3a6a5e" stroke-width="1.0" stroke-opacity="0.8"/>
<line x1="98.60" y1="245.10" x2="98.60" y2="328.80" stroke="#6a7a74" stroke-width="1.0" stroke-opacity="0.45"/>
<line x1="131.40" y1="256.60" x2="131.40" y2="340.30" stroke="#6a7a74" stroke-width="1.1" stroke-opacity="0.55"/>
<circle cx="123.20" cy="288.70" r="6.30" fill="url(#gOl)"/>
<circle cx="115.00" cy="292.80" r="2.60" fill="url(#gPbT)"/>
<circle cx="89.90" cy="291.40" r="5.65" fill="url(#gRdD)" stroke="#6a2a10" stroke-width="0.6" stroke-opacity="0.75"/>
<circle cx="139.80" cy="293.20" r="5.65" fill="url(#gRdD)" stroke="#6a2a10" stroke-width="0.6" stroke-opacity="0.75"/>
<circle cx="107.30" cy="296.90" r="5.75" fill="url(#gRdD)" stroke="#6a2a10" stroke-width="0.6" stroke-opacity="0.75"/>
<circle cx="115.10" cy="241.90" r="6.55" fill="url(#gRd)" stroke="#7a1a10" stroke-width="0.6" stroke-opacity="0.75"/>
<circle cx="115.10" cy="343.30" r="6.35" fill="url(#gRd)" stroke="#7a1a10" stroke-width="0.6" stroke-opacity="0.75"/>
<circle cx="82.30" cy="244.30" r="8.75" fill="url(#gOr)" stroke="#b0561a" stroke-width="0.6" stroke-opacity="0.75"/>
<circle cx="131.40" cy="247.60" r="8.75" fill="url(#gOr)" stroke="#b0561a" stroke-width="0.6" stroke-opacity="0.75"/>
<circle cx="81.90" cy="346.30" r="8.55" fill="url(#gOr)" stroke="#b0561a" stroke-width="0.6" stroke-opacity="0.75"/>
<circle cx="131.40" cy="349.30" r="8.55" fill="url(#gOr)" stroke="#b0561a" stroke-width="0.6" stroke-opacity="0.75"/>
<line x1="239.90" y1="257.30" x2="239.90" y2="350.40" stroke="#7c7c7c" stroke-width="1.25"/>
<line x1="256.80" y1="249.50" x2="256.50" y2="342.70" stroke="#7c7c7c" stroke-width="1.0"/>
<line x1="291.40" y1="259.60" x2="291.40" y2="352.70" stroke="#7c7c7c" stroke-width="1.15"/>
<line x1="308.30" y1="252.40" x2="308.30" y2="344.90" stroke="#7c7c7c" stroke-width="1.1"/>
<line x1="239.90" y1="257.30" x2="256.80" y2="249.50" stroke="#8a6a6a" stroke-width="1.0"/>
<line x1="256.80" y1="249.50" x2="308.30" y2="252.40" stroke="#8a6a6a" stroke-width="1.0"/>
<line x1="308.30" y1="252.40" x2="291.40" y2="259.60" stroke="#8a6a6a" stroke-width="1.0"/>
<line x1="291.40" y1="259.60" x2="239.90" y2="257.30" stroke="#8a6a6a" stroke-width="1.0"/>
<line x1="239.90" y1="350.40" x2="256.50" y2="342.70" stroke="#8a6a6a" stroke-width="1.0"/>
<line x1="256.50" y1="342.70" x2="308.30" y2="344.90" stroke="#8a6a6a" stroke-width="1.0"/>
<line x1="308.30" y1="344.90" x2="291.40" y2="352.70" stroke="#8a6a6a" stroke-width="1.0"/>
<line x1="291.40" y1="352.70" x2="239.90" y2="350.40" stroke="#8a6a6a" stroke-width="1.0"/>
<ellipse cx="256.80" cy="249.50" rx="8.15" ry="7.15" fill="url(#gOrB)" stroke="#a86a20" stroke-width="0.6" stroke-opacity="0.75"/>
<ellipse cx="308.30" cy="252.40" rx="8.15" ry="7.15" fill="url(#gOrB)" stroke="#a86a20" stroke-width="0.6" stroke-opacity="0.75"/>
<ellipse cx="256.50" cy="342.70" rx="8.15" ry="7.15" fill="url(#gOrB)" stroke="#a86a20" stroke-width="0.6" stroke-opacity="0.75"/>
<ellipse cx="308.30" cy="344.90" rx="8.15" ry="7.15" fill="url(#gOrB)" stroke="#a86a20" stroke-width="0.6" stroke-opacity="0.75"/>
<polygon points="273.70,254.90 299.80,302.80 282.40,297.80" fill="#a6e2c8" fill-opacity="1" stroke="#55a888" stroke-width="0.5" stroke-linejoin="round"/>
<polygon points="273.70,254.90 282.40,297.80 248.00,300.20" fill="#aedfcb" fill-opacity="1" stroke="#55a888" stroke-width="0.5" stroke-linejoin="round"/>
<polygon points="273.70,347.30 299.80,302.80 282.40,297.80" fill="#a2e0c4" fill-opacity="1" stroke="#55a888" stroke-width="0.5" stroke-linejoin="round"/>
<polygon points="273.70,347.30 282.40,297.80 248.00,300.20" fill="#aadcc6" fill-opacity="1" stroke="#55a888" stroke-width="0.5" stroke-linejoin="round"/>
<polygon points="273.70,254.90 248.00,300.20 265.40,304.90" fill="#90d8b8" fill-opacity="0.55" stroke="#3e8e70" stroke-width="0.65" stroke-linejoin="round"/>
<polygon points="273.70,254.90 265.40,304.90 299.80,302.80" fill="#86dcb8" fill-opacity="0.55" stroke="#3e8e70" stroke-width="0.65" stroke-linejoin="round"/>
<polygon points="273.70,347.30 248.00,300.20 265.40,304.90" fill="#8ed6b6" fill-opacity="0.55" stroke="#3e8e70" stroke-width="0.65" stroke-linejoin="round"/>
<polygon points="273.70,347.30 265.40,304.90 299.80,302.80" fill="#84d8b4" fill-opacity="0.55" stroke="#3e8e70" stroke-width="0.65" stroke-linejoin="round"/>
<line x1="248.00" y1="300.20" x2="265.40" y2="304.90" stroke="#3a6a5e" stroke-width="1.0" stroke-opacity="0.8"/>
<line x1="265.40" y1="304.90" x2="299.80" y2="302.80" stroke="#3a6a5e" stroke-width="1.0" stroke-opacity="0.8"/>
<line x1="248.00" y1="300.20" x2="282.40" y2="297.80" stroke="#3a6a5e" stroke-width="1.0" stroke-opacity="0.8"/>
<line x1="282.40" y1="297.80" x2="299.80" y2="302.80" stroke="#3a6a5e" stroke-width="1.0" stroke-opacity="0.8"/>
<line x1="256.80" y1="258.50" x2="256.50" y2="333.70" stroke="#6a7a74" stroke-width="1.0" stroke-opacity="0.45"/>
<line x1="291.40" y1="268.60" x2="291.40" y2="343.70" stroke="#6a7a74" stroke-width="1.1" stroke-opacity="0.55"/>
<circle cx="282.40" cy="287.60" r="5.00" fill="url(#gTe)"/>
<circle cx="282.40" cy="297.80" r="5.80" fill="url(#gTan)"/>
<circle cx="274.00" cy="300.80" r="2.30" fill="url(#gPbT)"/>
<circle cx="248.00" cy="300.20" r="5.55" fill="url(#gRdD)" stroke="#6a2a10" stroke-width="0.6" stroke-opacity="0.75"/>
<circle cx="248.40" cy="290.90" r="5.00" fill="url(#gPu)"/>
<circle cx="299.80" cy="302.80" r="5.55" fill="url(#gRdD)" stroke="#6a2a10" stroke-width="0.6" stroke-opacity="0.75"/>
<circle cx="299.60" cy="292.50" r="5.00" fill="url(#gPu)"/>
<circle cx="265.40" cy="304.90" r="5.80" fill="url(#gRdO)"/>
<circle cx="265.00" cy="295.30" r="5.00" fill="url(#gBl)"/>
<circle cx="274.10" cy="246.40" r="5.10" fill="url(#gPu)"/>
<circle cx="273.70" cy="254.90" r="5.55" fill="url(#gRdD)" stroke="#6a2a10" stroke-width="0.6" stroke-opacity="0.75"/>
<circle cx="273.70" cy="355.10" r="5.00" fill="url(#gPu)"/>
<circle cx="273.70" cy="347.30" r="5.35" fill="url(#gRd)" stroke="#7a1a10" stroke-width="0.6" stroke-opacity="0.75"/>
<ellipse cx="239.90" cy="257.30" rx="8.25" ry="7.25" fill="url(#gOr)" stroke="#b0561a" stroke-width="0.6" stroke-opacity="0.75"/>
<ellipse cx="291.40" cy="259.60" rx="8.25" ry="7.25" fill="url(#gOr)" stroke="#b0561a" stroke-width="0.6" stroke-opacity="0.75"/>
<ellipse cx="239.90" cy="350.40" rx="8.25" ry="7.25" fill="url(#gOr)" stroke="#b0561a" stroke-width="0.6" stroke-opacity="0.75"/>
<ellipse cx="291.40" cy="352.70" rx="8.25" ry="7.25" fill="url(#gOr)" stroke="#b0561a" stroke-width="0.6" stroke-opacity="0.75"/>
<line x1="386.30" y1="292.20" x2="386.30" y2="345.80" stroke="#7c7c7c" stroke-width="1.25"/>
<line x1="404.10" y1="283.60" x2="404.10" y2="337.30" stroke="#7c7c7c" stroke-width="1.0"/>
<line x1="439.50" y1="295.10" x2="439.50" y2="348.70" stroke="#7c7c7c" stroke-width="1.15"/>
<line x1="457.20" y1="286.70" x2="457.20" y2="340.00" stroke="#7c7c7c" stroke-width="1.1"/>
<line x1="386.30" y1="292.20" x2="404.10" y2="283.60" stroke="#8a6a6a" stroke-width="1.0"/>
<line x1="404.10" y1="283.60" x2="457.20" y2="286.70" stroke="#8a6a6a" stroke-width="1.0"/>
<line x1="457.20" y1="286.70" x2="439.50" y2="295.10" stroke="#8a6a6a" stroke-width="1.0"/>
<line x1="439.50" y1="295.10" x2="386.30" y2="292.20" stroke="#8a6a6a" stroke-width="1.0"/>
<line x1="386.30" y1="345.80" x2="404.10" y2="337.30" stroke="#8a6a6a" stroke-width="1.0"/>
<line x1="404.10" y1="337.30" x2="457.20" y2="340.00" stroke="#8a6a6a" stroke-width="1.0"/>
<line x1="457.20" y1="340.00" x2="439.50" y2="348.70" stroke="#8a6a6a" stroke-width="1.0"/>
<line x1="439.50" y1="348.70" x2="386.30" y2="345.80" stroke="#8a6a6a" stroke-width="1.0"/>
<circle cx="404.10" cy="283.60" r="7.25" fill="url(#gOrB)" stroke="#a86a20" stroke-width="0.6" stroke-opacity="0.75"/>
<circle cx="457.20" cy="286.70" r="7.25" fill="url(#gOrB)" stroke="#a86a20" stroke-width="0.6" stroke-opacity="0.75"/>
<circle cx="404.10" cy="337.30" r="7.15" fill="url(#gOrB)" stroke="#a86a20" stroke-width="0.6" stroke-opacity="0.75"/>
<circle cx="457.20" cy="340.00" r="7.15" fill="url(#gOrB)" stroke="#a86a20" stroke-width="0.6" stroke-opacity="0.75"/>
<polygon points="421.90,289.10 448.60,317.50 430.50,311.80" fill="#1ccc8e" fill-opacity="1" stroke="#2a8a70" stroke-width="0.5" stroke-linejoin="round"/>
<polygon points="421.90,289.10 430.50,311.80 395.40,314.70" fill="#22be8c" fill-opacity="1" stroke="#2a8a70" stroke-width="0.5" stroke-linejoin="round"/>
<polygon points="421.90,343.30 448.60,317.50 430.50,311.80" fill="#1ac88a" fill-opacity="1" stroke="#2a8a70" stroke-width="0.5" stroke-linejoin="round"/>
<polygon points="421.90,343.30 430.50,311.80 395.40,314.70" fill="#24b48a" fill-opacity="1" stroke="#2a8a70" stroke-width="0.5" stroke-linejoin="round"/>
<polygon points="421.90,289.10 395.40,314.70 413.20,320.70" fill="#22c493" fill-opacity="0.85" stroke="#2e7e6a" stroke-width="0.65" stroke-linejoin="round"/>
<polygon points="421.90,289.10 413.20,320.70 448.60,317.50" fill="#10d490" fill-opacity="0.85" stroke="#2e7e6a" stroke-width="0.65" stroke-linejoin="round"/>
<polygon points="421.90,343.30 395.40,314.70 413.20,320.70" fill="#20be8e" fill-opacity="0.85" stroke="#2e7e6a" stroke-width="0.65" stroke-linejoin="round"/>
<polygon points="421.90,343.30 413.20,320.70 448.60,317.50" fill="#0ed08c" fill-opacity="0.85" stroke="#2e7e6a" stroke-width="0.65" stroke-linejoin="round"/>
<line x1="395.40" y1="314.70" x2="413.20" y2="320.70" stroke="#3a6a5e" stroke-width="1.0" stroke-opacity="0.8"/>
<line x1="413.20" y1="320.70" x2="448.60" y2="317.50" stroke="#3a6a5e" stroke-width="1.0" stroke-opacity="0.8"/>
<line x1="395.40" y1="314.70" x2="430.50" y2="311.80" stroke="#3a6a5e" stroke-width="1.0" stroke-opacity="0.8"/>
<line x1="430.50" y1="311.80" x2="448.60" y2="317.50" stroke="#3a6a5e" stroke-width="1.0" stroke-opacity="0.8"/>
<line x1="404.10" y1="292.60" x2="404.10" y2="328.30" stroke="#6a7a74" stroke-width="1.0" stroke-opacity="0.45"/>
<line x1="439.50" y1="304.10" x2="439.50" y2="339.70" stroke="#6a7a74" stroke-width="1.1" stroke-opacity="0.55"/>
<circle cx="430.50" cy="311.80" r="5.00" fill="url(#gTe)"/>
<circle cx="422.30" cy="316.40" r="2.70" fill="url(#gPbT)"/>
<circle cx="395.40" cy="314.70" r="5.10" fill="url(#gPu)"/>
<circle cx="448.60" cy="317.50" r="5.10" fill="url(#gBl)"/>
<circle cx="413.20" cy="320.70" r="5.40" fill="url(#gBl)"/>
<circle cx="421.90" cy="289.10" r="5.20" fill="url(#gPu)"/>
<circle cx="421.90" cy="343.30" r="5.20" fill="url(#gPu)"/>
<circle cx="386.30" cy="292.20" r="7.45" fill="url(#gOr)" stroke="#b0561a" stroke-width="0.6" stroke-opacity="0.75"/>
<circle cx="439.50" cy="295.10" r="7.45" fill="url(#gOr)" stroke="#b0561a" stroke-width="0.6" stroke-opacity="0.75"/>
<circle cx="386.30" cy="345.80" r="7.45" fill="url(#gOr)" stroke="#b0561a" stroke-width="0.6" stroke-opacity="0.75"/>
<circle cx="439.50" cy="348.70" r="7.45" fill="url(#gOr)" stroke="#b0561a" stroke-width="0.6" stroke-opacity="0.75"/>
</svg></body></html>
